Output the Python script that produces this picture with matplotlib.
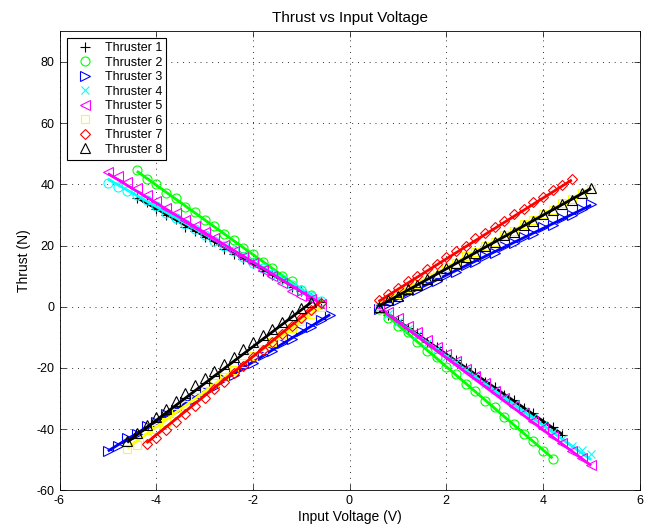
import matplotlib
matplotlib.use("Agg")
import matplotlib.pyplot as plt
from matplotlib.lines import Line2D

plt.rcParams['font.family'] = ['Liberation Sans', 'DejaVu Sans']
plt.rcParams['axes.unicode_minus'] = False

labels = ["Thruster 1", "Thruster 2", "Thruster 3", "Thruster 4",
          "Thruster 5", "Thruster 6", "Thruster 7", "Thruster 8"]
colors = ["#000000", "#00ff00", "#0000ff", "#00ffff",
          "#ff00ff", "#ffff00", "#ff0000", "#000000"]
markers_legend = ["+", "o", ">", "x", "<", "s", "D", "^"]
markers_neg = ["+", "o", ">", "o", "<", "s", "D", "^"]
markers_pos = ["+", "o", ">", "x", "<", "s", "D", "^"]

# ---- negative-voltage data ----
v_neg1 = [-4.4, -4.2, -4.0, -3.8, -3.6, -3.4, -3.2, -3.0, -2.8, -2.6, -2.4, -2.2, -2.0, -1.8, -1.6, -1.4, -1.2, -1.0, -0.8, -0.6]
t_neg1 = [35.4, 34.1, 31.8, 30.0, 28.6, 26.2, 24.6, 22.7, 21.4, 19.0, 17.3, 15.5, 14.2, 11.8, 10.2, 8.9, 6.5, 5.2, 3.0, 1.6]
v_neg2 = [-4.4, -4.2, -4.0, -3.8, -3.6, -3.4, -3.2, -3.0, -2.8, -2.6, -2.4, -2.2, -2.0, -1.8, -1.6, -1.4, -1.2, -1.0, -0.8, -0.6]
t_neg2 = [44.6, 41.8, 40.0, 37.2, 35.5, 32.7, 30.9, 28.2, 26.4, 23.6, 21.9, 19.1, 17.3, 14.6, 12.8, 10.0, 8.3, 5.5, 3.7, 1.0]
v_neg3 = [-5.0, -4.8, -4.6, -4.4, -4.2, -4.0, -3.8, -3.6, -3.4, -3.2, -3.0, -2.8, -2.6, -2.4, -2.2, -2.0, -1.8, -1.6, -1.4, -1.2, -1.0, -0.8, -0.6, -0.4]
t_neg3 = [-47.0, -45.6, -43.0, -41.6, -39.1, -37.8, -35.2, -33.9, -31.3, -30.0, -27.5, -26.1, -23.6, -22.3, -19.7, -18.4, -15.8, -14.5, -11.9, -10.6, -8.0, -6.7, -4.2, -2.8]
v_neg4 = [-5.0, -4.8, -4.6, -4.4, -4.2, -4.0, -3.8, -3.6, -3.4, -3.2, -3.0, -2.8, -2.6, -2.4, -2.2, -2.0, -1.8, -1.6, -1.4, -1.2, -1.0, -0.8, -0.6]
t_neg4 = [40.5, 39.0, 37.8, 36.4, 34.8, 32.9, 30.6, 29.0, 27.0, 25.3, 23.4, 21.6, 19.8, 18.1, 16.3, 14.4, 12.7, 10.8, 9.1, 7.2, 5.5, 3.6, 1.8]
v_neg5 = [-5.0, -4.8, -4.6, -4.4, -4.2, -4.0, -3.8, -3.6, -3.4, -3.2, -3.0, -2.8, -2.6, -2.4, -2.2, -2.0, -1.8, -1.6, -1.4, -1.2, -1.0, -0.8, -0.6]
t_neg5 = [44.0, 42.6, 40.6, 38.9, 36.6, 34.6, 32.4, 30.5, 28.4, 26.5, 24.4, 22.4, 20.2, 18.3, 16.1, 14.2, 12.0, 9.9, 7.6, 5.2, 3.6, 2.4, 1.0]
v_neg6 = [-4.6, -4.4, -4.2, -4.0, -3.8, -3.6, -3.4, -3.2, -3.0, -2.8, -2.6, -2.4, -2.2, -2.0, -1.8, -1.6, -1.4, -1.2, -1.0, -0.8, -0.6]
t_neg6 = [-46.4, -45.2, -42.9, -40.1, -37.6, -34.9, -32.2, -29.6, -27.5, -25.0, -22.9, -20.6, -18.3, -16.0, -13.7, -11.5, -9.2, -7.0, -4.6, -2.3, -0.1]
v_neg7 = [-4.2, -4.0, -3.8, -3.6, -3.4, -3.2, -3.0, -2.8, -2.6, -2.4, -2.2, -2.0, -1.8, -1.6, -1.4, -1.2, -1.0, -0.8, -0.6]
t_neg7 = [-45.0, -42.9, -40.4, -37.6, -35.0, -32.3, -29.8, -27.0, -24.5, -21.8, -19.3, -16.6, -14.0, -11.5, -8.8, -6.3, -3.6, -1.2, 1.3]
v_neg8 = [-4.6, -4.4, -4.2, -4.0, -3.8, -3.6, -3.4, -3.2, -3.0, -2.8, -2.6, -2.4, -2.2, -2.0, -1.8, -1.6, -1.4, -1.2, -1.0, -0.8]
t_neg8 = [-44.0, -41.2, -38.6, -36.0, -33.4, -30.9, -28.2, -25.7, -23.4, -21.0, -18.6, -16.3, -13.8, -11.6, -9.4, -7.2, -4.9, -2.6, -0.4, 1.6]

# ---- positive-voltage data ----
v_pos1 = [0.6, 0.8, 1.0, 1.2, 1.4, 1.6, 1.8, 2.0, 2.2, 2.4, 2.6, 2.8, 3.0, 3.2, 3.4, 3.6, 3.8, 4.0, 4.2, 4.4]
t_pos1 = [-0.1, -2.6, -4.3, -7.0, -8.7, -11.4, -13.1, -15.8, -17.4, -20.1, -21.8, -24.5, -26.1, -28.9, -30.5, -33.2, -34.9, -37.6, -39.3, -41.9]
v_pos2 = [0.6, 0.8, 1.0, 1.2, 1.4, 1.6, 1.8, 2.0, 2.2, 2.4, 2.6, 2.8, 3.0, 3.2, 3.4, 3.6, 3.8, 4.0, 4.2]
t_pos2 = [-0.7, -3.6, -6.2, -8.3, -11.6, -14.4, -16.5, -19.8, -22.0, -25.3, -27.5, -30.7, -32.9, -36.1, -38.4, -41.6, -43.8, -47.0, -49.7]
v_pos3 = [0.6, 0.8, 1.0, 1.2, 1.4, 1.6, 1.8, 2.0, 2.2, 2.4, 2.6, 2.8, 3.0, 3.2, 3.4, 3.6, 3.8, 4.0, 4.2, 4.4, 4.6, 4.8, 5.0]
t_pos3 = [-0.6, 0.8, 2.3, 4.4, 5.3, 7.0, 8.4, 10.5, 11.5, 13.6, 14.5, 16.7, 17.6, 19.8, 20.7, 22.8, 23.7, 25.9, 26.8, 28.9, 29.9, 32.0, 33.5]
v_pos4 = [0.6, 0.8, 1.0, 1.2, 1.4, 1.6, 1.8, 2.0, 2.2, 2.4, 2.6, 2.8, 3.0, 3.2, 3.4, 3.6, 3.8, 4.0, 4.2, 4.4, 4.6, 4.8, 5.0]
t_pos4 = [-0.4, -2.4, -4.9, -7.3, -9.2, -11.8, -13.7, -16.3, -18.2, -20.8, -22.7, -25.3, -27.2, -29.8, -31.7, -34.0, -36.2, -38.5, -40.8, -43.3, -45.6, -46.9, -48.3]
v_pos5 = [0.6, 0.8, 1.0, 1.2, 1.4, 1.6, 1.8, 2.0, 2.2, 2.4, 2.6, 2.8, 3.0, 3.2, 3.4, 3.6, 3.8, 4.0, 4.2, 4.4, 4.6, 4.8, 5.0]
t_pos5 = [0.3, -1.6, -3.8, -6.2, -8.4, -10.9, -13.1, -15.6, -17.8, -20.3, -22.6, -25.0, -27.5, -29.9, -32.4, -34.8, -37.3, -39.7, -42.2, -44.6, -47.0, -49.6, -51.8]
v_pos6 = [0.6, 0.8, 1.0, 1.2, 1.4, 1.6, 1.8, 2.0, 2.2, 2.4, 2.6, 2.8, 3.0, 3.2, 3.4, 3.6, 3.8, 4.0, 4.2, 4.4, 4.6, 4.8, 5.0]
t_pos6 = [0.5, 2.6, 4.0, 6.1, 7.4, 9.6, 10.9, 13.0, 14.3, 16.5, 17.8, 19.9, 21.3, 23.4, 24.7, 26.9, 28.2, 30.3, 31.6, 33.8, 35.1, 37.2, 38.6]
v_pos7 = [0.6, 0.8, 1.0, 1.2, 1.4, 1.6, 1.8, 2.0, 2.2, 2.4, 2.6, 2.8, 3.0, 3.2, 3.4, 3.6, 3.8, 4.0, 4.2, 4.4, 4.6]
t_pos7 = [2.2, 4.3, 6.0, 8.3, 10.0, 12.2, 14.0, 16.2, 18.1, 20.0, 22.3, 24.0, 26.1, 28.0, 30.2, 32.0, 34.1, 36.0, 38.0, 39.9, 41.8]
v_pos8 = [0.6, 0.8, 1.0, 1.2, 1.4, 1.6, 1.8, 2.0, 2.2, 2.4, 2.6, 2.8, 3.0, 3.2, 3.4, 3.6, 3.8, 4.0, 4.2, 4.4, 4.6, 4.8, 5.0]
t_pos8 = [0.0, 2.1, 3.5, 5.7, 7.0, 9.2, 10.5, 12.7, 14.2, 16.1, 17.5, 19.8, 21.0, 23.3, 24.5, 26.8, 28.0, 30.2, 31.5, 33.7, 35.0, 37.1, 38.7]

# ---- linear fit coefficients (thrust = slope * V + intercept) ----
fit_slope_neg = [-9.00, -11.34, 9.70, -9.00, -9.64, 11.49, 12.80, 12.02]
fit_icpt_neg = [-3.93, -5.60, 1.31, -3.30, -4.68, 6.66, 9.27, 10.95]
fit_slope_pos = [-10.92, -13.61, 7.64, -11.30, -11.73, 8.65, 9.93, 8.76]
fit_icpt_pos = [6.34, 7.67, -5.00, 6.48, 6.74, -4.50, -4.26, -5.17]

v_neg = [v_neg1, v_neg2, v_neg3, v_neg4, v_neg5, v_neg6, v_neg7, v_neg8]
t_neg = [t_neg1, t_neg2, t_neg3, t_neg4, t_neg5, t_neg6, t_neg7, t_neg8]
v_pos = [v_pos1, v_pos2, v_pos3, v_pos4, v_pos5, v_pos6, v_pos7, v_pos8]
t_pos = [t_pos1, t_pos2, t_pos3, t_pos4, t_pos5, t_pos6, t_pos7, t_pos8]

x_ticks = [-6, -4, -2, 0, 2, 4, 6]
y_ticks = [-60, -40, -20, 0, 20, 40, 60, 80]

fig = plt.figure(figsize=(6.53, 5.27), dpi=100)
ax = fig.add_axes([59.5 / 653, 1 - 490.3 / 527, 580 / 653, 459 / 527])

def msize(m):
    return {"D": 5.0, "s": 5.5, "+": 7, "x": 6}.get(m, 6.5)

for i in range(8):
    c = colors[i]
    mn, mp = markers_neg[i], markers_pos[i]
    ax.plot(v_neg[i], t_neg[i], linestyle="none", marker=mn, ms=msize(mn),
            mfc="none", mec=c, mew=0.8)
    ax.plot(v_pos[i], t_pos[i], linestyle="none", marker=mp, ms=msize(mp),
            mfc="none", mec=c, mew=0.8)
    xn = [min(v_neg[i]), max(v_neg[i])]
    ax.plot(xn, [fit_slope_neg[i] * x + fit_icpt_neg[i] for x in xn], color=c, lw=2.0,
            solid_capstyle="butt")
    xp = [min(v_pos[i]), max(v_pos[i])]
    ax.plot(xp, [fit_slope_pos[i] * x + fit_icpt_pos[i] for x in xp], color=c, lw=2.0,
            solid_capstyle="butt")

ax.set_xlim(-6, 6)
ax.set_ylim(-60, 90)
ax.set_xticks(x_ticks)
ax.set_yticks(y_ticks)
ax.tick_params(direction="in", top=True, right=True, length=4, width=0.5, labelsize=9)
for s in ax.spines.values():
    s.set_linewidth(0.6)
ax.grid(True, color="#333333", linestyle=(0, (1, 5)), linewidth=0.7)

ax.set_title("Thrust vs Input Voltage", fontsize=11, pad=7)
ax.set_xlabel("Input Voltage (V)", fontsize=10, labelpad=2)
ax.set_ylabel("Thrust (N)", fontsize=10, labelpad=4)

handles = [Line2D([], [], linestyle="none", marker=markers_legend[i], ms=msize(markers_legend[i]),
                  mfc="none", mec=colors[i], mew=0.8) for i in range(8)]
leg = ax.legend(handles, labels, loc="upper left", bbox_to_anchor=(0.013, 0.986),
                borderaxespad=0, fontsize=9, frameon=True, fancybox=False,
                edgecolor="black", framealpha=1, handlelength=2.2, handletextpad=0.45,
                labelspacing=0.2, borderpad=0.35)
leg.get_frame().set_linewidth(0.8)

fig.savefig("out.png", dpi=100)
